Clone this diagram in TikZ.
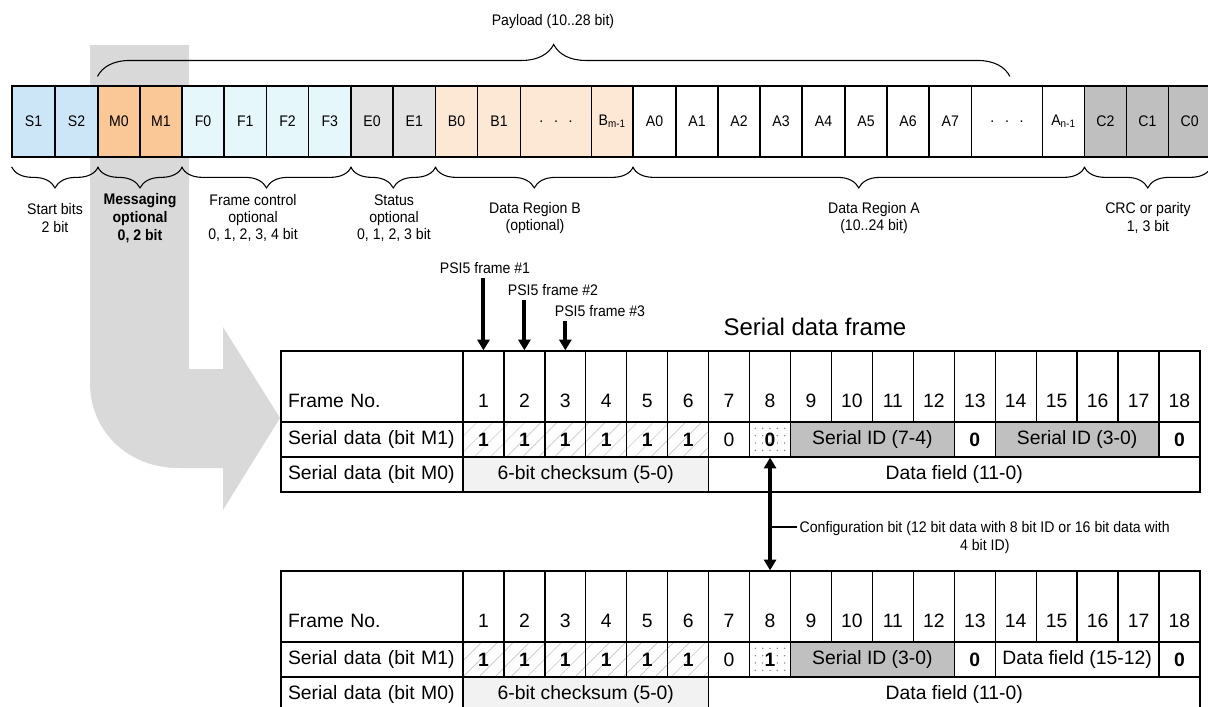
\documentclass[tikz,border=0pt]{standalone}
\usepackage{fontspec}
\setmainfont{Liberation Sans}
\newfontfamily\narrowfont[FakeStretch=0.92]{Liberation Sans}
\usetikzlibrary{arrows.meta,positioning,calc,decorations.pathreplacing,patterns.meta}
\definecolor{cStart}{HTML}{CCE6F7}
\definecolor{cMsg}{HTML}{FAC896}
\definecolor{cCtrl}{HTML}{E6F7FC}
\definecolor{cStat}{HTML}{E3E3E3}
\definecolor{cRegB}{HTML}{FDE8D6}
\definecolor{cCrc}{HTML}{BFBFBF}
\definecolor{cBack}{HTML}{D9D9D9}
\definecolor{cId}{HTML}{C0C0C0}
\definecolor{cSum}{HTML}{F2F2F2}
\tikzset{
  >=Stealth,
  bit/.style  ={draw,line width=0.8pt,minimum height=53.25pt,inner sep=0pt,font=\narrowfont\fontsize{11.5}{13}\selectfont},
  brc/.style  ={decorate,decoration={brace,amplitude=15.75pt},line width=0.8pt},
  lbl/.style  ={align=center,font=\narrowfont\fontsize{11.5}{13}\selectfont},
  lblb/.style ={align=center,font=\narrowfont\bfseries\fontsize{11.5}{13.5}\selectfont},
  cell/.style ={draw,line width=1pt,inner sep=0pt,font=\fontsize{14.5}{17}\selectfont},
  hdr/.style  ={minimum height=53.25pt,text height=32pt,text depth=0pt},
  lblcell/.style={cell,minimum width=136.5pt,text width=126pt,inner xsep=5.25pt,align=left},
  hatchcell/.style={pattern={Lines[angle=45,distance=8.5pt,line width=0.35pt]},pattern color=black!28},
  dotcell/.style={pattern={Dots[distance=5.5pt,radius=0.6pt]},pattern color=black!50},
  psi/.style  ={-{Triangle[length=8pt,width=9pt]},line width=3pt},
  cfgarrow/.style={{Triangle[length=8pt,width=9pt]}-{Triangle[length=8pt,width=9pt]},line width=3pt},
}
\newcommand{\colw}{40.94}
% cell spanning columns #3..#4 between y #5 and #6
\newcommand{\spancell}[7][]{%
  \node[cell,#1,minimum width={((#4)-(#3)+1)*\colw*0.75pt},minimum height={((#6)-(#5))*0.75pt}]
    (#2) at ({463+((#3)+(#4)-1)*\colw/2},{((#5)+(#6))/2}) {#7};}
% common part of a serial data frame table, #1 prefix, #2 top
\newcommand{\frametable}[2]{%
  \node[lblcell,hdr] (#1lab) at (372,#2+35.5) {Frame No.};
  \foreach \i in {1,...,18}
    \node[cell,hdr,minimum width={\colw*0.75pt}] (#1n\i) at ({463+(\i-0.5)*\colw},#2+35.5) {\i};
  \node[lblcell,minimum height=26.25pt] (#1m1) at (372,#2+88.5) {Serial data (bit M1)};
  \foreach \i in {1,...,6}
    \node[cell,hatchcell,minimum width={\colw*0.75pt},minimum height=26.25pt] (#1h\i) at ({463+(\i-0.5)*\colw},#2+88.5) {\textbf{1}};
  \spancell{#1c7}{7}{7}{#2+71}{#2+106}{0}
  \spancell{#1c13}{13}{13}{#2+71}{#2+106}{\textbf{0}}
  \spancell{#1c18}{18}{18}{#2+71}{#2+106}{\textbf{0}}
  \node[lblcell,minimum height=26.25pt] (#1m0) at (372,#2+123.5) {Serial data (bit M0)};
  \spancell[fill=cSum]{#1sum}{1}{6}{#2+106}{#2+141}{6-bit checksum (5-0)}
  \spancell{#1dat}{7}{18}{#2+106}{#2+141}{Data field (11-0)}
}

\begin{document}
\begin{tikzpicture}[x=0.75pt,y=-0.75pt]
  \useasboundingbox (0,0) rectangle (1208,707);
  \clip (0,0) rectangle (1208,707);
  % big grey arrow behind everything
  \fill[cBack] (90,45) -- (189,45) -- (189,369) -- (223,369) -- (223,327) -- (280,418) -- (223,510) -- (223,468)
    -- (178,468) .. controls (129,468) and (90,432) .. (90,383) -- cycle;

  % PSI5 data frame bits
  \foreach \nm/\txt/\xa/\xb/\col in {
      s1/S1/12/55/cStart, s2/S2/55/98/cStart, m0/M0/98/140/cMsg, m1/M1/140/182/cMsg,
      f0/F0/182/224/cCtrl, f1/F1/224/266.5/cCtrl, f2/F2/266.5/308.5/cCtrl, f3/F3/308.5/351/cCtrl,
      e0/E0/351/393/cStat, e1/E1/393/435.5/cStat,
      b0/B0/435.5/477.5/cRegB, b1/B1/477.5/520.5/cRegB, bd/{.\hspace{8pt}.\hspace{8pt}.}/520.5/591.5/cRegB,
      bm/{B\textsubscript{m-1}}/591.5/633/cRegB,
      a0/A0/633/676/white, a1/A1/676/718/white, a2/A2/718/760/white, a3/A3/760/802/white,
      a4/A4/802/845/white, a5/A5/845/887/white, a6/A6/887/929/white, a7/A7/929/971.5/white,
      ad/{.\hspace{8pt}.\hspace{8pt}.}/971.5/1042.5/white, an/{A\textsubscript{n-1}}/1042.5/1084.5/white,
      c2/C2/1084.5/1126.5/cCrc, c1/C1/1126.5/1168.5/cCrc, c0/C0/1168.5/1211/cCrc}
    \node[bit,fill=\col,minimum width={(\xb-\xa)*0.75pt}] (\nm) at ({(\xa+\xb)/2},121.5) {\txt};

  % payload brace
  \coordinate (pl) at ($(m0.north west)+(0,-9)$);
  \coordinate (pr) at ($(ad.north west)!0.54!(ad.north east)+(0,-9)$);
  \draw[brc,decoration={amplitude=24pt}] (pl) -- (pr);
  \node[lbl] (payload) at (553,22) {Payload (10..28 bit)};

  % field braces
  \draw[brc] ([yshift=-7pt]s2.south east) -- ([yshift=-7pt]s1.south west);
  \draw[brc] ([yshift=-7pt]m1.south east) -- ([yshift=-7pt]m0.south west);
  \draw[brc] ([yshift=-7pt]f3.south east) -- ([yshift=-7pt]f0.south west);
  \draw[brc] ([yshift=-7pt]e1.south east) -- ([yshift=-7pt]e0.south west);
  \draw[brc] ([yshift=-7pt]bm.south east) -- ([yshift=-7pt]b0.south west);
  \draw[brc] ([yshift=-7pt]an.south east) -- ([yshift=-7pt]a0.south west);
  \draw[brc] ([yshift=-7pt]c0.south east) -- ([yshift=-7pt]c2.south west);
  \node[lbl]  (lstart) at (55,218)   {Start bits\\2 bit};
  \node[lblb] (lmsg)   at (140,218)  {Messaging\\optional\\0, 2 bit};
  \node[lbl]  (lctrl)  at (253,218)  {Frame control\\optional\\0, 1, 2, 3, 4 bit};
  \node[lbl]  (lstat)  at (394,218)  {Status\\optional\\0, 1, 2, 3 bit};
  \node[lbl]  (lregb)  at (535,218)  {Data Region B\\(optional)};
  \node[lbl]  (lrega)  at (874,218)  {Data Region A\\(10..24 bit)};
  \node[lbl]  (lcrc)   at (1148,218) {CRC or parity\\1, 3 bit};

  % serial data frame, 8 bit ID
  \node[font=\fontsize{18}{22}\selectfont] (title) at (815,327) {Serial data frame};
  \frametable{t}{351}
  \spancell[dotcell]{tc8}{8}{8}{422}{457}{\textbf{0}}
  \spancell[fill=cId]{tid1}{9}{12}{422}{457}{Serial ID (7-4)}
  \spancell[fill=cId]{tid2}{14}{17}{422}{457}{Serial ID (3-0)}

  % serial data frame, 4 bit ID
  \frametable{u}{571}
  \spancell[dotcell]{uc8}{8}{8}{642}{677}{\textbf{1}}
  \spancell[fill=cId]{uid1}{9}{12}{642}{677}{Serial ID (3-0)}
  \spancell{udat2}{14}{17}{642}{677}{Data field (15-12)}

  % PSI5 frames
  \node[lbl] (ps1) at (485,268) {PSI5 frame \#1};
  \node[lbl] (ps2) at (553,290) {PSI5 frame \#2};
  \node[lbl] (ps3) at (600,311) {PSI5 frame \#3};
  \draw[psi] (tn1 |- ps1.south) -- (tn1.north);
  \draw[psi] (tn2 |- ps2.south) -- (tn2.north);
  \draw[psi] (tn3 |- ps3.south) -- (tn3.north);

  % configuration bit
  \draw[cfgarrow] (tc8.south) -- (un8.north);
  \node[lbl,anchor=west] (cfg) at (795,537.5) {Configuration bit (12 bit data with 8 bit ID or 16 bit data with\\4 bit ID)};
  \coordinate (cfgl) at (797,527);
  \draw[line width=0.8pt] (tc8.south |- cfgl) -- (cfgl);
\end{tikzpicture}
\end{document}
